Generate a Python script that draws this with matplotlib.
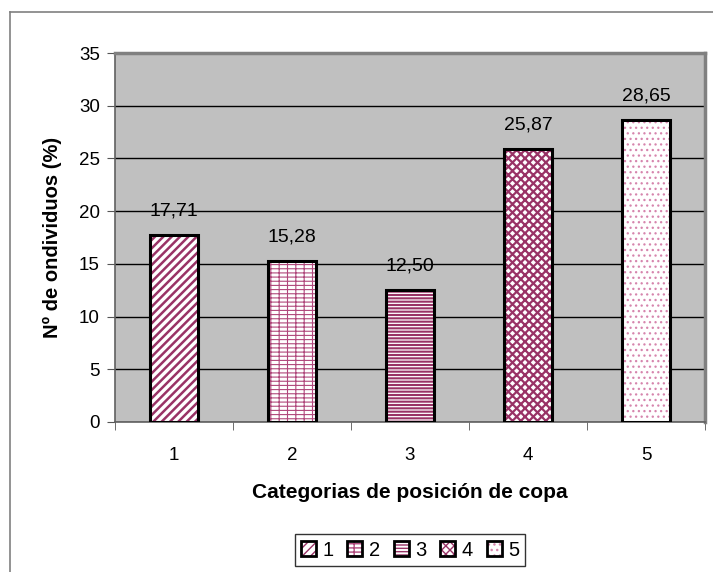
import matplotlib
matplotlib.use("Agg")
import matplotlib.pyplot as plt
from matplotlib.patches import Patch
from matplotlib.legend_handler import HandlerTuple
from matplotlib.lines import Line2D

plt.rcParams['font.family'] = ['Liberation Sans', 'DejaVu Sans']

categories = ["1", "2", "3", "4", "5"]
values = [17.71, 15.28, 12.50, 25.87, 28.65]
value_labels = ["17,71", "15,28", "12,50", "25,87", "28,65"]
y_ticks = [0, 5, 10, 15, 20, 25, 30, 35]

plum = "#993366"
# (hatch colour, hatch pattern, hatch line width) for each category
styles = [
    (plum, "////", 1.8),
    ("#b0487c", "----||", 0.8),
    (plum, "-----", 1.5),
    (plum, "xxxx", 1.6),
    ("#d685ad", "...", 0.9),
]

fig = plt.figure(figsize=(7.13, 5.72), dpi=100)
ax = fig.add_axes([115 / 713, 1 - 422 / 572, 590 / 713, 369 / 572])
ax.set_facecolor("#c0c0c0")

x = list(range(len(categories)))
width = 0.41
for i, (v, (hc, h, hlw)) in enumerate(zip(values, styles)):
    with plt.rc_context({'hatch.linewidth': hlw}):
        ax.bar(x[i], v, width, color="white", edgecolor=hc, hatch=h, linewidth=0, zorder=3)
    ax.bar(x[i], v, width, facecolor="none", edgecolor="black", linewidth=2.2, zorder=4)
    ax.text(x[i], v + 1.5, value_labels[i], ha="center", va="bottom",
            fontsize=14, zorder=5)

ax.set_ylim(0, 35)
ax.set_xlim(-0.5, len(categories) - 0.5)
ax.set_yticks(y_ticks)
ax.set_yticklabels([str(t) for t in y_ticks], fontsize=13.5)
ax.yaxis.grid(True, color="black", linewidth=1.0, zorder=1)
ax.set_axisbelow(True)

ax.set_xticks(x)
ax.set_xticklabels(categories, fontsize=13.5)
ax.tick_params(axis="x", which="major", length=0, pad=18)
ax.set_xticks([i + 0.5 for i in range(-1, len(categories))], minor=True)
ax.tick_params(axis="x", which="minor", length=6, color="#555555", direction="out")
ax.tick_params(axis="y", length=6, color="#555555", direction="out", pad=5)

for side in ["top", "right"]:
    ax.spines[side].set_color("#808080")
    ax.spines[side].set_linewidth(2.5)
for side in ["left", "bottom"]:
    ax.spines[side].set_color("#606060")
    ax.spines[side].set_linewidth(1.2)

ax.set_ylabel("Nº de ondividuos (%)", fontsize=14.5, fontweight="bold", labelpad=12)
ax.set_xlabel("Categorias de posición de copa", fontsize=15, fontweight="bold", labelpad=14)

handles = []
for hc, h, hlw in styles:
    with plt.rc_context({'hatch.linewidth': hlw}):
        hatched = Patch(facecolor="white", edgecolor=hc, hatch=h, linewidth=0)
    handles.append((hatched, Patch(facecolor="none", edgecolor="black", linewidth=2)))
leg = fig.legend(handles, categories, handler_map={tuple: HandlerTuple(ndivide=1)},
                 loc="center", bbox_to_anchor=(410 / 713, 1 - 550 / 572), ncol=5,
                 fontsize=14.5, frameon=True, fancybox=False, edgecolor="black",
                 handlelength=0.75, handleheight=0.75, handletextpad=0.3,
                 columnspacing=0.7, borderpad=0.3)
leg.get_frame().set_linewidth(1.0)

# outer chart frame
fig.add_artist(Line2D([10 / 713, 1.0], [1 - 12 / 572] * 2, color="#808080", linewidth=1.2))
fig.add_artist(Line2D([10 / 713] * 2, [0, 1 - 12 / 572], color="#808080", linewidth=1.2))

fig.savefig("out.png", dpi=100)
